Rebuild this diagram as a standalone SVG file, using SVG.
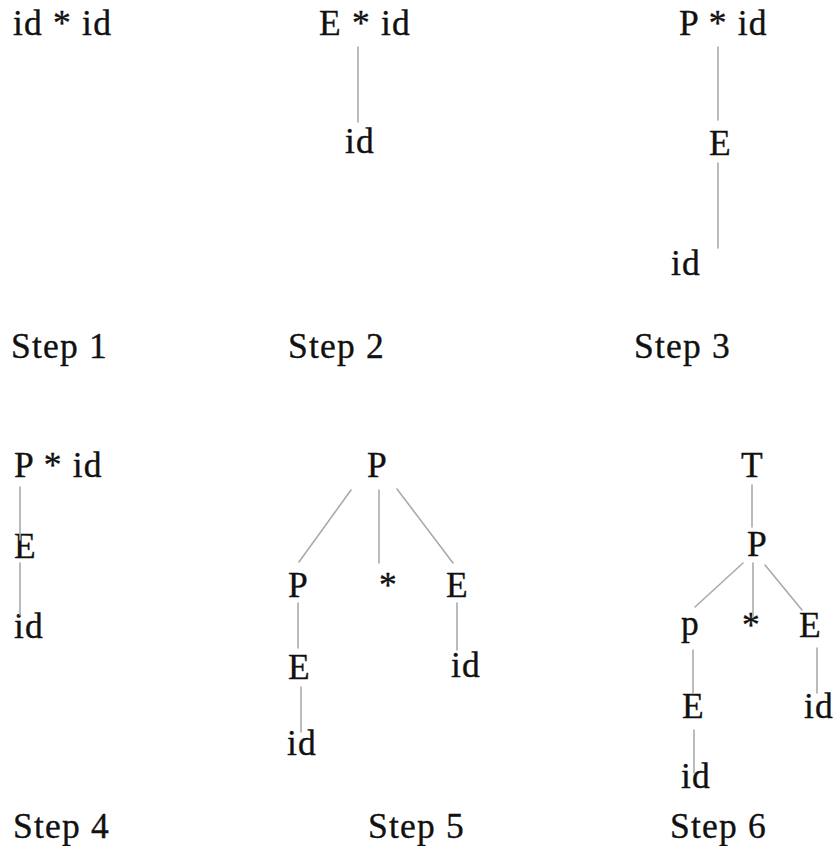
<svg xmlns="http://www.w3.org/2000/svg" width="835" height="846" viewBox="0 0 835 846">
  <style>
    text { font-family: "Liberation Serif", "Times New Roman", serif; font-size: 35.5px; letter-spacing: 1.2px; fill: #111; stroke: #111; stroke-width: 0.35; }
    .edge { stroke: #aaa; stroke-width: 1.6; fill: none; stroke-linecap: round; }
  </style>
  <rect width="835" height="846" fill="#fff"/>

  <!-- Step 1 -->
  <g id="step1">
    <g id="s1-input"><text x="13" y="35">id * id</text></g>
    <g id="s1-label"><text x="11" y="358">Step 1</text></g>
  </g>

  <!-- Step 2 -->
  <g id="step2">
    <g id="s2-root"><text x="319" y="35">E * id</text></g>
    <g id="s2-id"><text x="345" y="153">id</text></g>
    <g id="s2-label"><text x="288" y="358">Step 2</text></g>
  </g>

  <!-- Step 3 -->
  <g id="step3">
    <g id="s3-root"><text x="679" y="35">P * id</text></g>
    <g id="s3-E"><text x="709" y="155">E</text></g>
    <g id="s3-id"><text x="671" y="275">id</text></g>
    <g id="s3-label"><text x="634" y="358">Step 3</text></g>
  </g>

  <!-- Step 4 -->
  <g id="step4">
    <g id="s4-root"><text x="14" y="477">P * id</text></g>
    <g id="s4-E"><text x="14" y="558">E</text></g>
    <g id="s4-id"><text x="14" y="638">id</text></g>
    <g id="s4-label"><text x="13" y="838">Step 4</text></g>
  </g>

  <!-- Step 5 -->
  <g id="step5">
    <g id="s5-P"><text x="367" y="477">P</text></g>
    <g id="s5-P2"><text x="288" y="597">P</text></g>
    <g id="s5-star"><text x="379" y="597">*</text></g>
    <g id="s5-E"><text x="446" y="597">E</text></g>
    <g id="s5-E2"><text x="288" y="679">E</text></g>
    <g id="s5-id"><text x="287" y="755">id</text></g>
    <g id="s5-id2"><text x="451" y="677">id</text></g>
    <g id="s5-label"><text x="368" y="838">Step 5</text></g>
  </g>

  <!-- Step 6 -->
  <g id="step6">
    <g id="s6-T"><text x="741" y="477">T</text></g>
    <g id="s6-P"><text x="747" y="556">P</text></g>
    <g id="s6-p"><text x="681" y="635">p</text></g>
    <g id="s6-star"><text x="742" y="637">*</text></g>
    <g id="s6-E"><text x="799" y="637">E</text></g>
    <g id="s6-E2"><text x="682" y="718">E</text></g>
    <g id="s6-id"><text x="681" y="788">id</text></g>
    <g id="s6-id2"><text x="804" y="718">id</text></g>
    <g id="s6-label"><text x="670" y="838">Step 6</text></g>
  </g>

  <!-- tree edges -->
  <g id="connectors">
    <line class="edge" x1="358" y1="47" x2="358" y2="122"/>
    <line class="edge" x1="718" y1="47" x2="718" y2="120"/>
    <line class="edge" x1="718" y1="163" x2="718" y2="248"/>
    <line class="edge" x1="20" y1="487" x2="20" y2="540"/>
    <line class="edge" x1="20" y1="563" x2="20" y2="615"/>
    <line class="edge" x1="351" y1="490" x2="299" y2="562"/>
    <line class="edge" x1="379" y1="490" x2="379" y2="563"/>
    <line class="edge" x1="397" y1="489" x2="453" y2="563"/>
    <line class="edge" x1="298" y1="603" x2="298" y2="648"/>
    <line class="edge" x1="301" y1="687" x2="301" y2="732"/>
    <line class="edge" x1="457" y1="603" x2="457" y2="650"/>
    <line class="edge" x1="752" y1="485" x2="752" y2="527"/>
    <line class="edge" x1="743" y1="563" x2="695" y2="607"/>
    <line class="edge" x1="753" y1="563" x2="753" y2="617"/>
    <line class="edge" x1="765" y1="565" x2="802" y2="610"/>
    <line class="edge" x1="693" y1="650" x2="693" y2="693"/>
    <line class="edge" x1="694" y1="730" x2="694" y2="773"/>
    <line class="edge" x1="817" y1="648" x2="817" y2="693"/>
  </g>
</svg>
